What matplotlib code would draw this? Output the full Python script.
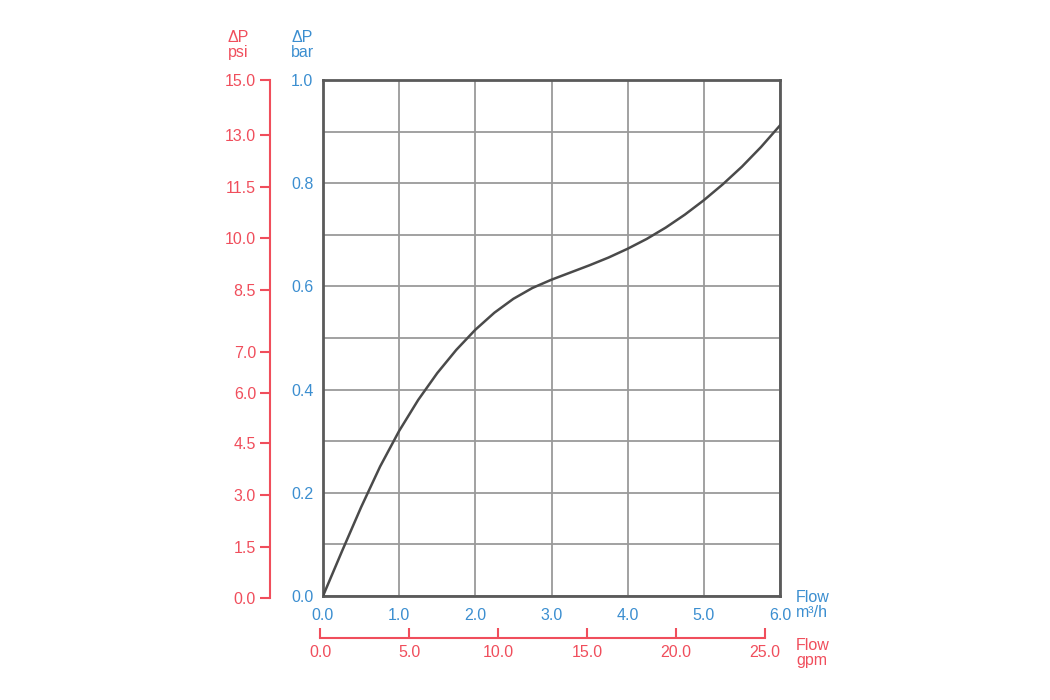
import numpy as np
import matplotlib
matplotlib.use("Agg")
import matplotlib.pyplot as plt

plt.rcParams['font.family'] = ['Liberation Sans', 'DejaVu Sans']

# values (every 0.25 m3/h)
flow_m3h = [0.0, 0.25, 0.5, 0.75, 1.0, 1.25, 1.5, 1.75, 2.0, 2.25, 2.5, 2.75, 3.0,
            3.25, 3.5, 3.75, 4.0, 4.25, 4.5, 4.75, 5.0, 5.25, 5.5, 5.75, 6.0]
dp_bar = [0.0, 0.087, 0.172, 0.251, 0.320, 0.380, 0.432, 0.477, 0.516, 0.549,
          0.576, 0.597, 0.613, 0.627, 0.641, 0.656, 0.673, 0.692, 0.714, 0.739,
          0.767, 0.798, 0.832, 0.870, 0.912]

bar_ticks = [0.0, 0.1, 0.2, 0.3, 0.4, 0.5, 0.6, 0.7, 0.8, 0.9, 1.0]
bar_labels = ["0.0", "", "0.2", "", "0.4", "", "0.6", "", "0.8", "", "1.0"]
m3h_ticks = [0, 1, 2, 3, 4, 5, 6]
m3h_labels = ["0.0", "1.0", "2.0", "3.0", "4.0", "5.0", "6.0"]
# psi ticks sit where the reference draws them (labels are as printed)
psi_ticks = [0, 1.47, 2.98, 4.48, 5.93, 7.12, 8.92, 10.43, 11.9, 13.41, 15]
psi_labels = ["0.0", "1.5", "3.0", "4.5", "6.0", "7.0", "8.5", "10.0", "11.5", "13.0", "15.0"]
gpm_ticks = [0, 5, 10, 15, 20, 25]
gpm_labels = ["0.0", "5.0", "10.0", "15.0", "20.0", "25.0"]

RED = '#f04e5c'
BLUE = '#3b8ed0'
W, H = 1050, 700

def box(x0, y0, x1, y1):
    # pixel box (top-left origin) -> figure fraction
    return [x0 / W, 1 - y1 / H, (x1 - x0) / W, (y1 - y0) / H]

fig = plt.figure(figsize=(10.5, 7), dpi=100)

# main chart
ax = fig.add_axes(box(323, 80, 780, 596))
ax.plot(flow_m3h, dp_bar, color='#4a4a4a', lw=1.8, zorder=3, solid_joinstyle='round')
ax.set_xlim(0, 6)
ax.set_ylim(0, 1)
ax.set_xticks(m3h_ticks)
ax.set_xticklabels(m3h_labels)
ax.set_yticks(bar_ticks)
ax.set_yticklabels(bar_labels)
ax.grid(True, color='#9a9a9a', lw=1.3)
ax.tick_params(length=0, labelsize=11.5, labelcolor=BLUE)
ax.tick_params(axis='x', pad=9)
ax.tick_params(axis='y', pad=7)
for s in ax.spines.values():
    s.set_color('#5a5a5a')
    s.set_linewidth(2)

# psi axis
axp = fig.add_axes(box(270, 80, 271, 598))
axp.patch.set_visible(False)
for k in ['top', 'right', 'bottom']:
    axp.spines[k].set_visible(False)
axp.spines['left'].set_color(RED)
axp.spines['left'].set_linewidth(1.5)
axp.set_ylim(0, 15)
axp.set_yticks(psi_ticks)
axp.set_yticklabels(psi_labels)
axp.set_xticks([])
axp.tick_params(axis='y', colors=RED, labelsize=11.5, length=7, width=1.5, pad=3)

# gpm axis
axg = fig.add_axes(box(320, 600, 765, 638))
axg.patch.set_visible(False)
for k in ['top', 'right', 'left']:
    axg.spines[k].set_visible(False)
axg.spines['bottom'].set_color(RED)
axg.spines['bottom'].set_linewidth(1.5)
axg.set_xlim(0, 25)
axg.set_xticks(gpm_ticks)
axg.set_xticklabels(gpm_labels)
axg.set_yticks([])
axg.tick_params(axis='x', colors=RED, labelsize=11.5, direction='in', length=7, width=1.5, pad=5)

# axis titles
fig.text(238 / W, 1 - 45 / H, "ΔP\npsi", color=RED, fontsize=11.5, ha='center', va='center', linespacing=0.95)
fig.text(302 / W, 1 - 45 / H, "ΔP\nbar", color=BLUE, fontsize=11.5, ha='center', va='center', linespacing=0.95)
fig.text(796 / W, 1 - 605 / H, "Flow\nm³/h", color=BLUE, fontsize=11.5, ha='left', va='center', linespacing=0.95)
fig.text(796 / W, 1 - 653 / H, "Flow\ngpm", color=RED, fontsize=11.5, ha='left', va='center', linespacing=0.95)

fig.savefig("out.png", dpi=100)
